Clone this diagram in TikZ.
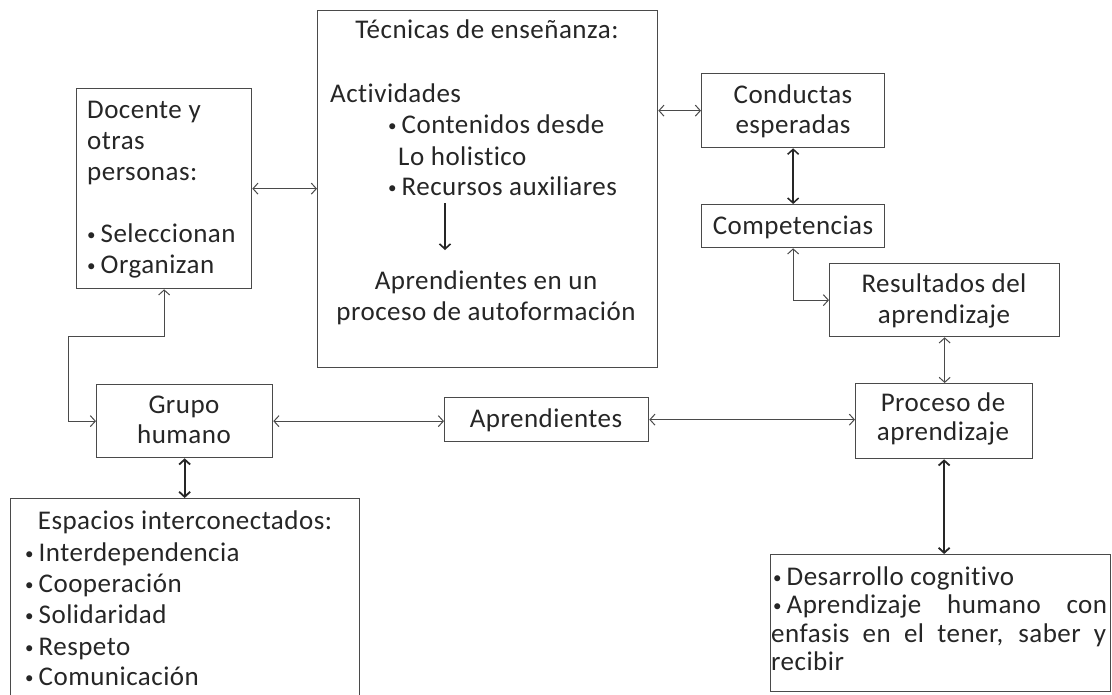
\documentclass[tikz,border=0pt]{standalone}
\usepackage{fontspec}
\setmainfont{Carlito}[Ligatures=NoCommon, LetterSpace=1.8]
\usetikzlibrary{arrows.meta}
\definecolor{ln}{HTML}{4A4A4A}
\definecolor{tx}{HTML}{262626}
\newcommand\bul{\raisebox{1.5pt}{\fontsize{17}{17}\selectfont\textbullet}\hspace{5pt}}
\begin{document}
\begin{tikzpicture}[x=1pt,y=-1pt,
  box/.style={draw=ln, line width=1.3pt, inner sep=0pt, anchor=north west},
  txt/.style={inner sep=0pt, text=tx, font=\fontsize{27}{31}\selectfont},
  thinarr/.style={draw=ln, line width=1pt,
    {Straight Barb[length=5pt,width=11pt]}-{Straight Barb[length=5pt,width=11pt]}},
  thickarr/.style={draw=tx, line width=1.8pt,
    {Straight Barb[length=5pt,width=11pt]}-{Straight Barb[length=5pt,width=11pt]}},
  downarr/.style={draw=tx, line width=1.6pt, -{Straight Barb[length=5pt,width=11pt]}}]
\useasboundingbox (0,0) rectangle (1112,694);
\clip (0,0) rectangle (1112,694);
\fill[white] (0,0) rectangle (1112,694);

% boxes
\node[box, minimum width=175pt, minimum height=200pt] (doc) at (76,88) {};
\node[box, minimum width=340pt, minimum height=357pt] (tec) at (317,10) {};
\node[box, minimum width=183pt, minimum height=74pt] (cond) at (701,73) {};
\node[box, minimum width=183pt, minimum height=43pt] (comp) at (701,204) {};
\node[box, minimum width=230pt, minimum height=73pt] (res) at (829,263) {};
\node[box, minimum width=177pt, minimum height=75pt] (proc) at (855,383) {};
\node[box, minimum width=204pt, minimum height=44pt] (apr) at (444,397) {};
\node[box, minimum width=176pt, minimum height=73pt] (grupo) at (96,384) {};
\node[box, minimum width=349pt, minimum height=240pt] (esp) at (10,498) {};
\node[box, minimum width=340pt, minimum height=137pt] (bot) at (770,554) {};

% Docente text
\node[txt, anchor=base west] (d1) at (87,118) {Docente y};
\node[txt, anchor=base west] (d2) at (87,149) {otras};
\node[txt, anchor=base west] (d3) at (87,180) {personas:};
\node[txt, anchor=base west] (d4) at (87,242) {\bul Seleccionan};
\node[txt, anchor=base west] (d5) at (87,273) {\bul Organizan};

% Tecnicas text
\node[txt, anchor=base] (t1) at (487,38) {Técnicas de enseñanza:};
\node[txt, anchor=base west] (t2) at (330,102) {Actividades};
\node[txt, anchor=base west] (t3) at (388,133) {\bul Contenidos desde};
\node[txt, anchor=base west] (t4) at (398,165) {Lo holistico};
\node[txt, anchor=base west] (t5) at (388,195) {\bul Recursos auxiliares};
\node[txt, anchor=base] (t6) at (486,289) {Aprendientes en un};
\node[txt, anchor=base] (t7) at (486,320) {proceso de autoformación};
\coordinate (ia) at (445,203);
\coordinate (ib) at (445,250);

% right column
\node[txt, anchor=base] (c1) at (793,103) {Conductas};
\node[txt, anchor=base] (c2) at (793,133) {esperadas};
\node[txt, anchor=base] (k1) at (793,234) {Competencias};
\node[txt, anchor=base] (r1) at (944,292) {Resultados del};
\node[txt, anchor=base] (r2) at (944,323) {aprendizaje};
\node[txt, anchor=base] (p1) at (943,411) {Proceso de};
\node[txt, anchor=base] (p2) at (943,440) {aprendizaje};

% middle row
\node[txt, anchor=base] (a1) at (546,427) {Aprendientes};
\node[txt, anchor=base] (g1) at (184,413) {Grupo};
\node[txt, anchor=base] (g2) at (184,443) {humano};

% Espacios
\node[txt, anchor=base] (e0) at (185,529) {Espacios interconectados:};
\node[txt, anchor=base west] (e1) at (25,561) {\bul Interdependencia};
\node[txt, anchor=base west] (e2) at (25,592) {\bul Cooperación};
\node[txt, anchor=base west] (e3) at (25,623) {\bul Solidaridad};
\node[txt, anchor=base west] (e4) at (25,655) {\bul Respeto};
\node[txt, anchor=base west] (e5) at (25,685) {\bul Comunicación};

% bottom right
\node[txt, anchor=base west] (b1) at (773,585) {\bul Desarrollo cognitivo};
\node[txt, anchor=base west] (b2) at (773,613) {\makebox[334pt][s]{\bul Aprendizaje humano con}};
\node[txt, anchor=base west] (b3) at (771,642) {\makebox[335pt][s]{enfasis en el tener, saber y}};
\node[txt, anchor=base west] (b4) at (771,670) {recibir};

% connectors
\coordinate (elb) at (68,336);
\draw[thinarr] (doc.east) -- (doc.east -| tec.west);
\draw[thinarr] (cond.west -| tec.east) -- (cond.west);
\draw[thickarr, line width=1.5pt] (cond.south) -- (comp.north);
\draw[thinarr] (comp.south) |- (res.west);
\draw[thinarr] (res.south) -- (res.south |- proc.north);
\draw[thinarr] (grupo.east) -- (grupo.east -| apr.west);
\draw[thinarr] (apr.east) -- (apr.east -| proc.west);
\draw[thinarr] (grupo.west) -| (elb) -| (doc.south);
\draw[thickarr] (grupo.south) -- (grupo.south |- esp.north);
\draw[thickarr] (proc.south) -- (proc.south |- bot.north);
\draw[downarr] (ia) -- (ib);
\end{tikzpicture}
\end{document}
